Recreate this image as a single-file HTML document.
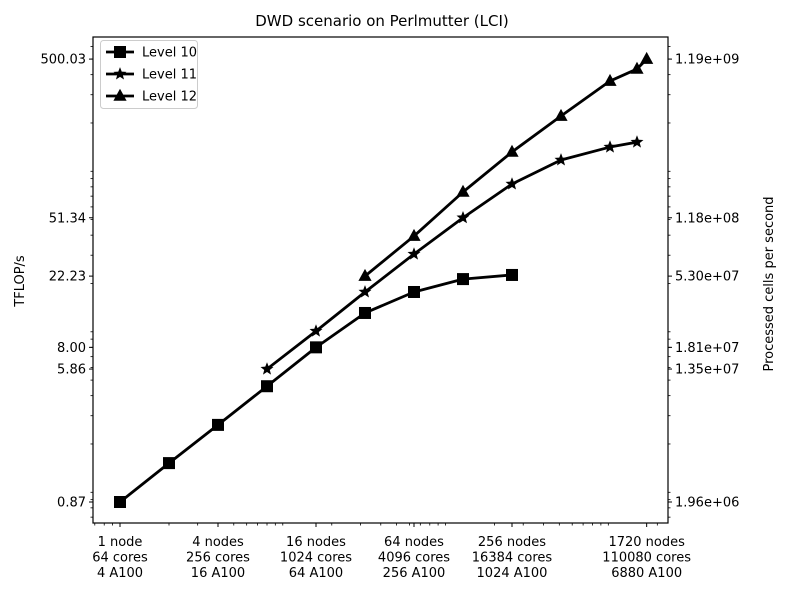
<!DOCTYPE html>
<html><head><meta charset="utf-8"><style>
body{margin:0;background:#fff}
svg{display:block;font-family:"DejaVu Sans","Liberation Sans",sans-serif}
</style></head><body>
<svg id="chart" width="789" height="592" viewBox="0 0 789 592">
<rect width="789" height="592" fill="#fff"/>
<text x="382" y="26" text-anchor="middle" font-size="15">DWD scenario on Perlmutter (LCI)</text>
<text transform="translate(24,281) rotate(-90)" text-anchor="middle" font-size="13">TFLOP/s</text>
<text transform="translate(773,284) rotate(-90)" text-anchor="middle" font-size="13">Processed cells per second</text>
<g id="ticks"></g>
<g id="series"></g>
<rect x="93" y="37" width="575" height="486" fill="none" stroke="#000" stroke-width="1.2"/>
<g id="legend"></g>
</svg>
<script>
const level10Nodes=[1,2,4,8,16,32,64,128,256];
const level10Values=[0.87,1.52,2.63,4.58,8.0,13.1,17.7,21.3,22.6];
const level11Nodes=[8,16,32,64,128,256,512,1024,1500];
const level11Values=[5.86,10.1,17.7,30.5,51.34,83.3,117.6,141.6,152];
const level12Nodes=[32,64,128,256,512,1024,1500,1720];
const level12Values=[22.23,39.5,74.3,132,221,365,434,500.03];
const leftTickValues=[0.87,5.86,8.00,22.23,51.34,500.03];
const leftTickLabels=["0.87","5.86","8.00","22.23","51.34","500.03"];
const rightTickLabels=["1.96e+06","1.35e+07","1.81e+07","5.30e+07","1.18e+08","1.19e+09"];
const xTickNodes=[1,4,16,64,256,1720];
const xTickLabels=[["1 node","64 cores","4 A100"],["4 nodes","256 cores","16 A100"],["16 nodes","1024 cores","64 A100"],["64 nodes","4096 cores","256 A100"],["256 nodes","16384 cores","1024 A100"],["1720 nodes","110080 cores","6880 A100"]];
const seriesNames=["Level 10","Level 11","Level 12"];

const NS="http://www.w3.org/2000/svg";
const X=n=>120+49*Math.log2(n);
const Y=v=>502-160.5*Math.log10(v/0.87);
function mk(tag,attrs,parent){const e=document.createElementNS(NS,tag);for(const k in attrs)e.setAttribute(k,attrs[k]);parent.appendChild(e);return e;}
const ticks=document.getElementById('ticks');
for(let d=-1;d<=3;d++)for(let k=1;k<=9;k++){
  const v=k*Math.pow(10,d);
  const y=Y(v); if(y>37&&y<523){
    const t=mk('line',{x1:90.5,x2:93,y1:y,y2:y,stroke:'#000','stroke-width':0.8},ticks);
    
    
    const t2=mk('line',{x1:668,x2:670.5,y1:y,y2:y,stroke:'#000','stroke-width':0.8},ticks);
    
    
  }
  const x=X(v); if(x>93&&x<668){
    const t=mk('line',{x1:x,x2:x,y1:523,y2:525.5,stroke:'#000','stroke-width':0.8},ticks);
    
    
  }
}
leftTickValues.forEach((v,i)=>{
  const y=Y(v);
  const l=mk('line',{x1:89,x2:93,y1:y,y2:y,stroke:'#000','stroke-width':1},ticks);
  
  
  const t=mk('text',{x:86,y:y+4.5,'text-anchor':'end','font-size':13},ticks);
  t.textContent=leftTickLabels[i];
  
  
  const r=mk('line',{x1:668,x2:672,y1:y,y2:y,stroke:'#000','stroke-width':1},ticks);
  
  
  const rt=mk('text',{x:675,y:y+4.5,'text-anchor':'start','font-size':13},ticks);
  rt.textContent=rightTickLabels[i];
  
  
});
xTickNodes.forEach((n,i)=>{
  const x=X(n);
  const l=mk('line',{x1:x,x2:x,y1:523,y2:527,stroke:'#000','stroke-width':1},ticks);
  
  
  xTickLabels[i].forEach((s,j)=>{
    const t=mk('text',{x:x,y:546+j*15.5,'text-anchor':'middle','font-size':13},ticks);
    t.textContent=s;
    
    
  });
});
function marker(type,x,y,parent,s){
  if(type===0) return mk('rect',{x:x-s,y:y-s,width:2*s,height:2*s,fill:'#000'},parent);
  if(type===2) return mk('polygon',{points:`${x},${y-s*1.2} ${x+s*1.1},${y+s*0.8} ${x-s*1.1},${y+s*0.8}`,fill:'#000'},parent);
  let p=[];for(let k=0;k<10;k++){const r=k%2?s*0.45:s*1.05,a=-Math.PI/2+k*Math.PI/5;p.push((x+r*Math.cos(a)).toFixed(2)+','+(y+r*Math.sin(a)).toFixed(2));}
  return mk('polygon',{points:p.join(' '),fill:'#000'},parent);
}
const sg=document.getElementById('series');
const allN=[level10Nodes,level11Nodes,level12Nodes],allV=[level10Values,level11Values,level12Values];
allN.forEach((ns,si)=>{
  const g=mk('g',{},sg);
  
  
  const pts=ns.map((n,i)=>X(n)+','+Y(allV[si][i])).join(' ');
  const pl=mk('polyline',{points:pts,fill:'none',stroke:'#000','stroke-width':2.8,'stroke-linejoin':'round'},g);
  
  
  ns.forEach((n,i)=>{
    const m=marker(si,X(n),Y(allV[si][i]),g,si===1?6.5:6);
    
    
  });
});
const lg=document.getElementById('legend');
const box=mk('rect',{x:100.5,y:40.5,width:97,height:68,rx:3,fill:'#fff',stroke:'#ccc','stroke-width':1},lg);


seriesNames.forEach((nm,i)=>{
  const y=52+i*22;
  const g=mk('g',{},lg);
  
  
  mk('line',{x1:106,x2:134,y1:y,y2:y,stroke:'#000','stroke-width':2.8},g);
  marker(i,120,y,g,i===1?6.5:6);
  const t=mk('text',{x:142,y:y+4.5,'font-size':13},g);
  t.textContent=nm;
});
</script>
</body></html>
